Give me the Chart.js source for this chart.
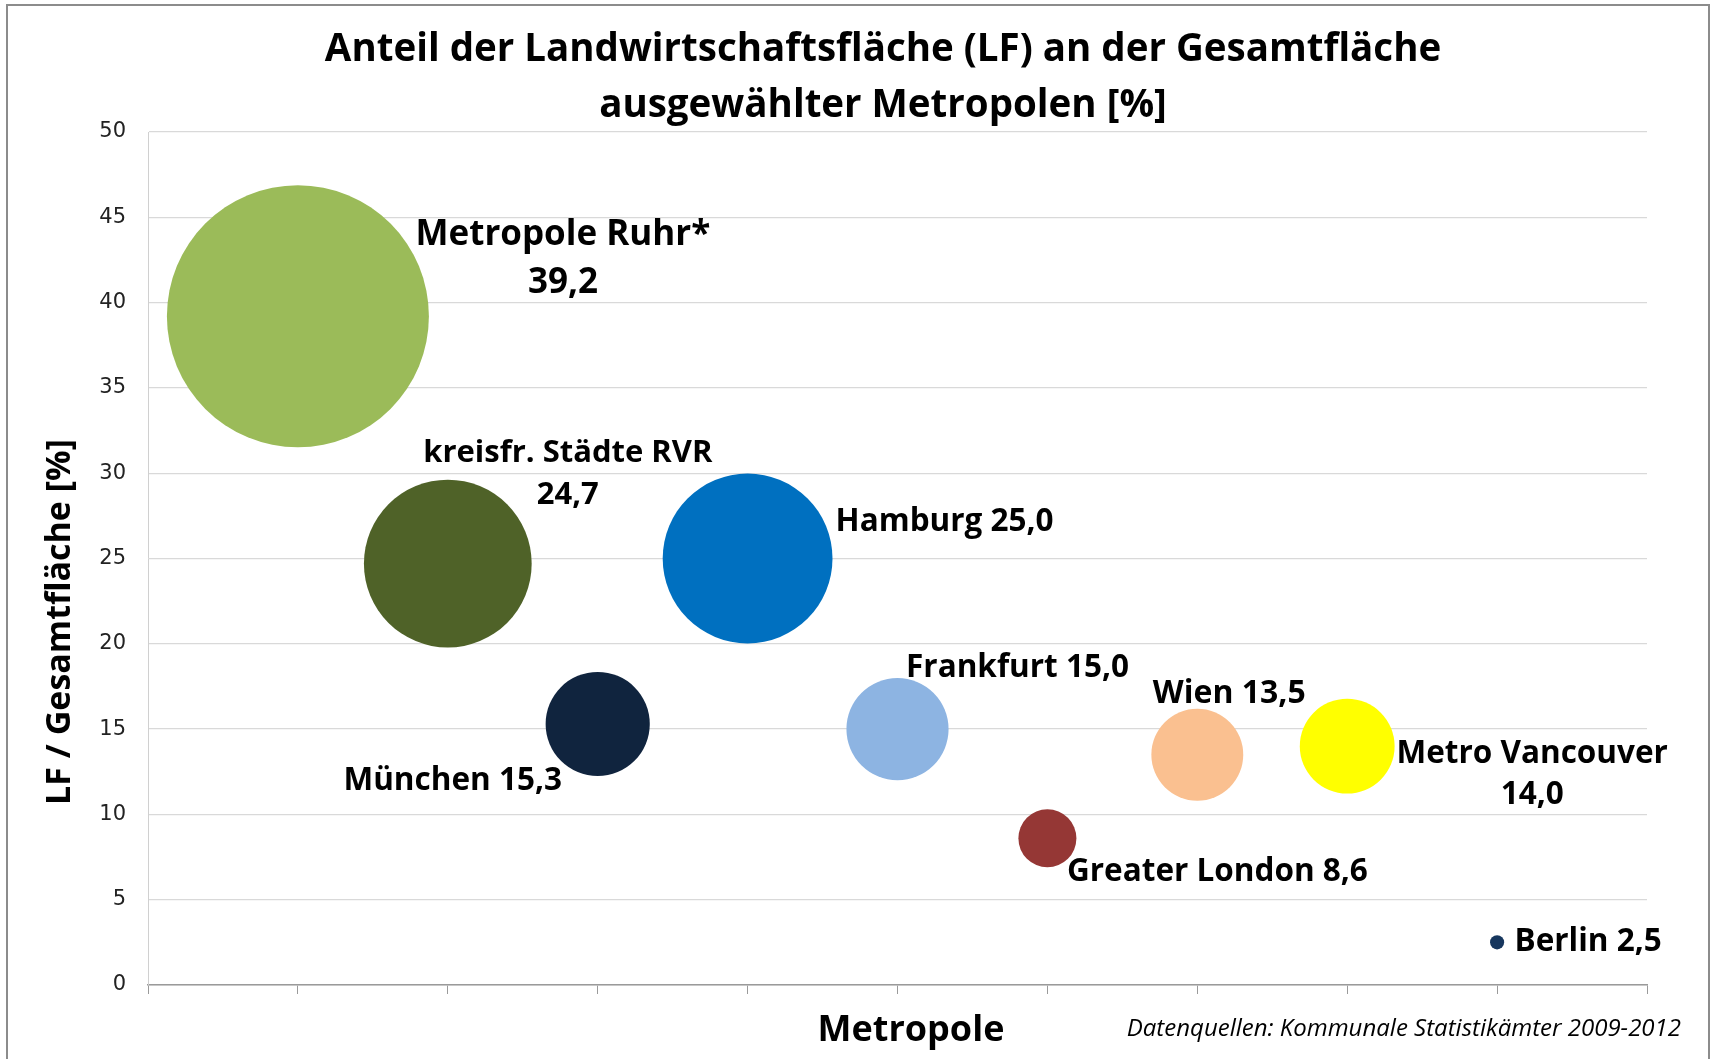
<!DOCTYPE html>
<html lang="de">
<head>
<meta charset="utf-8">
<title>Anteil der Landwirtschaftsfläche</title>
<script src="https://cdn.jsdelivr.net/npm/chart.js@4.4.1/dist/chart.umd.min.js"></script>
<style>
  html, body { margin: 0; padding: 0; background: #fff; overflow: hidden; }
  #wrap { position: relative; width: 1711px; height: 1059px; }
  #frame {
    position: absolute; left: 6px; top: 4px; width: 1700px; height: 1100px;
    border: 2px solid #8c8c8c; pointer-events: none;
  }
</style>
</head>
<body>
<div id="wrap">
  <canvas id="chart-lf" width="1711" height="1059"></canvas>
  <div id="frame"></div>
</div>
<script>
// --- Daten ---
const cities = ['Metropole Ruhr*', 'kreisfr. Städte RVR', 'München', 'Hamburg', 'Frankfurt',
                'Greater London', 'Wien', 'Metro Vancouver', 'Berlin'];
const xPos = [1, 2, 3, 4, 5, 6, 7, 8, 9];
const lfShare = [39.2, 24.7, 15.3, 25.0, 15.0, 8.6, 13.5, 14.0, 2.5];
const bubbleSize = [100, 41, 15.8, 42, 15.2, 4.9, 12.3, 13.1, 0.29];
const yTicks = [0, 5, 10, 15, 20, 25, 30, 35, 40, 45, 50];

const colors = ['#9BBB59', '#4F6228', '#10243E', '#0070C0', '#8DB4E2',
                '#953735', '#FAC090', '#FFFF00', '#17375E'];

// label placement relative to bubble centre (px), one line per array entry
const labelLayout = [
  { dx: 265, dy: [-81, -33], size: 35, lines: (n, v) => [n, v] },
  { dx: 120, dy: [-110, -68], size: 31, lines: (n, v) => [n, v] },
  { dx: -145, dy: [57], size: 31.5, lines: (n, v) => [n + ' ' + v] },
  { dx: 197, dy: [-36], size: 31.5, lines: (n, v) => [n + ' ' + v] },
  { dx: 120, dy: [-61], size: 31.5, lines: (n, v) => [n + ' ' + v] },
  { dx: 170, dy: [34], size: 31.5, lines: (n, v) => [n + ' ' + v] },
  { dx: 32, dy: [-61], size: 32, lines: (n, v) => [n + ' ' + v] },
  { dx: 185, dy: [8, 49], size: 31.5, lines: (n, v) => [n, v] },
  { dx: 91, dy: [0], size: 31.5, lines: (n, v) => [n + ' ' + v] },
];

const fmt = (v) => v.toFixed(1).replace('.', ',');
const maxR = 131;
const maxSize = Math.max(...bubbleSize);

const FONT = "'Open Sans', Lato, sans-serif";

/* --- Beschriftungen, Titel --- */
const textPlugin = {
  id: 'texts',
  afterDatasetsDraw(chart) {
    const c = chart.ctx;
    const meta = chart.getDatasetMeta(0);
    c.save();
    c.fillStyle = '#000';
    c.textAlign = 'center';
    c.textBaseline = 'middle';
    meta.data.forEach((pt, i) => {
      const l = labelLayout[i];
      c.font = 'bold ' + l.size + 'px ' + FONT;
      const lines = l.lines(cities[i], fmt(lfShare[i]));
      lines.forEach((t, k) => c.fillText(t, pt.x + l.dx, pt.y + l.dy[k]));
    });
    c.restore();
  },
  afterDraw(chart) {
    const c = chart.ctx;
    c.save();
    c.fillStyle = '#000';
    c.textAlign = 'center';
    c.textBaseline = 'middle';
    // Titel
    c.font = "bold 38.5px " + FONT;
    c.fillText('Anteil der Landwirtschaftsfläche (LF) an der Gesamtfläche', 883, 50);
    c.fillText('ausgewählter Metropolen [%]', 883, 106);
    // x-Achsentitel
    c.font = "bold 36px " + FONT;
    c.fillText('Metropole', 911, 1031);
    // Quelle
    c.textAlign = 'right';
    c.font = "italic 24px " + FONT;
    c.fillText('Datenquellen: Kommunale Statistikämter 2009-2012', 1681, 1029);
    // y-Achsentitel
    c.translate(60, 622);
    c.rotate(-Math.PI / 2);
    c.textAlign = 'center';
    c.font = "bold 34px " + FONT;
    c.fillText('LF / Gesamtfläche [%]', 0, 0);
    c.restore();
  }
};

new Chart(document.getElementById('chart-lf'), {
  type: 'bubble',
  data: {
    datasets: [{
      label: 'LF-Anteil',
      data: xPos.map((x, i) => ({ x, y: lfShare[i], r: maxR * Math.sqrt(bubbleSize[i] / maxSize) })),
      backgroundColor: colors,
      borderWidth: 0,
      hoverRadius: 0,
    }]
  },
  plugins: [textPlugin],
  options: {
    responsive: false,
    animation: false,
    layout: { autoPadding: false, padding: { top: 132, right: 64, left: 0, bottom: 0 } },
    plugins: { legend: { display: false }, tooltip: { enabled: false }, title: { display: false } },
    scales: {
      x: {
        type: 'linear',
        min: 0, max: 10,
        offset: false,
        afterFit: (s) => { s.height = 74; },
        ticks: { stepSize: 1, callback: () => '', padding: 0 },
        grid: { drawOnChartArea: false, drawTicks: true, tickLength: 9, color: '#9a9a9a' },
        border: { color: '#9a9a9a', width: 1.5 }
      },
      y: {
        min: 0, max: 50,
        afterFit: (s) => { s.width = 148; },
        afterBuildTicks: (s) => { s.ticks = yTicks.map(v => ({ value: v })); },
        ticks: {
          padding: 22,
          color: '#222',
          font: { family: "'DejaVu Sans', sans-serif", size: 21 }
        },
        grid: { color: '#d9d9d9', drawTicks: false, lineWidth: 1.3 },
        border: { color: '#d0d0d0' }
      }
    }
  }
});
</script>
</body>
</html>
